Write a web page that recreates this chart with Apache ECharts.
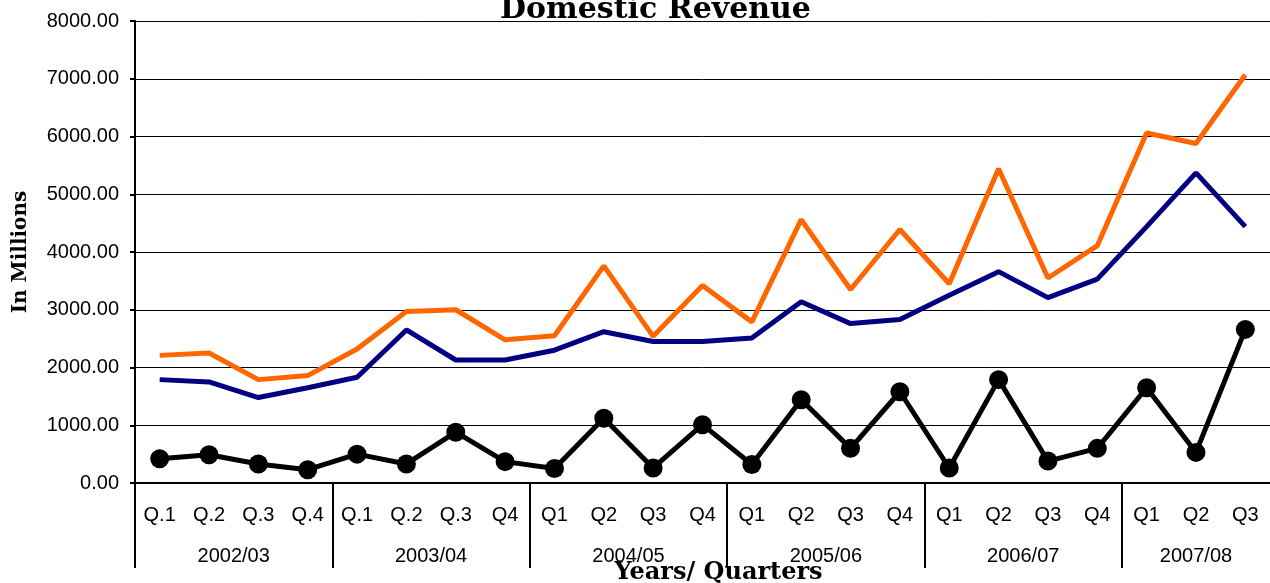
<!DOCTYPE html>
<html lang="en">
  <head>
    <meta charset="utf-8" />
    <title>Domestic Revenue</title>
    <script src="https://cdn.jsdelivr.net/npm/echarts@6/dist/echarts.min.js"></script>
    <style>
      html, body { margin: 0; padding: 0; background: #fff; }
    </style>
  </head>
  <body>
    <div id="main" style="width: 1270px; height: 583px;"></div>
    <script type="text/javascript">
      // quarters along the bottom
      const quarters = ['Q.1', 'Q.2', 'Q.3', 'Q.4', 'Q.1', 'Q.2', 'Q.3', 'Q4', 'Q1', 'Q2', 'Q3', 'Q4',
        'Q1', 'Q2', 'Q3', 'Q4', 'Q1', 'Q2', 'Q3', 'Q4', 'Q1', 'Q2', 'Q3']
      // fiscal years and where each group starts / ends (in quarters)
      const years = ['2002/03', '2003/04', '2004/05', '2005/06', '2006/07', '2007/08']
      const yearStart = [0, 4, 8, 12, 16, 20]
      const yearEnd = [4, 8, 12, 16, 20, 23]

      const orange = [2210, 2250, 1790, 1860, 2320, 2970, 3000, 2480, 2550, 3760, 2540, 3420,
        2790, 4560, 3350, 4390, 3450, 5440, 3550, 4110, 6060, 5880, 7070]
      const blue = [1790, 1750, 1480, 1650, 1830, 2650, 2130, 2130, 2300, 2620, 2450, 2450,
        2510, 3140, 2760, 2830, 3250, 3660, 3210, 3530, 4440, 5370, 4440]
      const black = [420, 490, 330, 230, 500, 330, 880, 370, 250, 1120, 260, 1010,
        320, 1440, 600, 1580, 260, 1790, 380, 600, 1650, 530, 2660]

      const yearMid = yearStart.map((s, i) => (s + yearEnd[i]) / 2)

      const sans = "'Liberation Sans', Arial, sans-serif"
      const serif = "'DejaVu Serif', serif"

      const myChart = echarts.init(document.getElementById('main'))

      const option = {
        animation: false,
        title: {
          text: 'Domestic Revenue',
          left: 500,
          top: -5,
          padding: 0,
          textStyle: { fontFamily: serif, fontWeight: 'bold', fontSize: 30, color: '#000' }
        },
        grid: { left: 135, right: 0, top: 21, bottom: 100, containLabel: false, outerBoundsMode: 'none' },
        xAxis: [
          {
            type: 'category',
            data: quarters,
            boundaryGap: true,
            position: 'bottom',
            name: 'Years/ Quarters',
            nameLocation: 'middle',
            nameGap: 78,
            nameTextStyle: {
              fontFamily: serif, fontWeight: 'bold', fontSize: 24, color: '#000',
              padding: [0, 0, 0, 32]
            },
            axisLine: { lineStyle: { color: '#000', width: 2 } },
            axisTick: { interval: 0, length: 44, lineStyle: { color: '#000', width: 2 } },
            axisLabel: { interval: 0, margin: 22, fontFamily: sans, fontSize: 20, color: '#000' },
            splitLine: { show: false }
          },
          {
            type: 'value',
            min: 0,
            max: 23,
            position: 'bottom',
            axisLine: { show: false },
            axisTick: {
              customValues: yearStart,
              length: 85,
              lineStyle: { color: '#000', width: 2 }
            },
            axisLabel: {
              customValues: yearMid,
              margin: 63,
              fontFamily: sans, fontSize: 20, color: '#000',
              formatter: (v) => {
                const i = yearMid.indexOf(v)
                return i >= 0 ? years[i] : ''
              }
            },
            splitLine: { show: false }
          }
        ],
        yAxis: {
          type: 'value',
          min: 0,
          max: 8000,
          interval: 1000,
          name: 'In Millions',
          nameLocation: 'middle',
          nameGap: 104,
          nameTextStyle: { fontFamily: serif, fontWeight: 'bold', fontSize: 20, color: '#000' },
          axisLine: { show: true, lineStyle: { color: '#000', width: 2 } },
          axisTick: { show: true, length: 5, lineStyle: { color: '#000', width: 2 } },
          axisLabel: {
            margin: 16, fontFamily: sans, fontSize: 20, color: '#000',
            formatter: (v) => v.toFixed(2)
          },
          splitLine: {
            show: true,
            lineStyle: {
              width: 1,
              color: (p) => p.value === 8000 ? '#808080' : '#000'
            }
          }
        },
        series: [
          {
            name: 'Total',
            type: 'line',
            data: orange,
            symbol: 'none',
            lineStyle: { color: '#ff6600', width: 5 },
            itemStyle: { color: '#ff6600' }
          },
          {
            name: 'Domestic',
            type: 'line',
            data: blue,
            symbol: 'none',
            lineStyle: { color: '#000080', width: 5 },
            itemStyle: { color: '#000080' }
          },
          {
            name: 'Other',
            type: 'line',
            data: black,
            symbol: 'circle',
            symbolSize: 19,
            lineStyle: { color: '#000', width: 5 },
            itemStyle: { color: '#000' }
          }
        ]
      }
      myChart.setOption(option)
    </script>
  </body>
</html>
